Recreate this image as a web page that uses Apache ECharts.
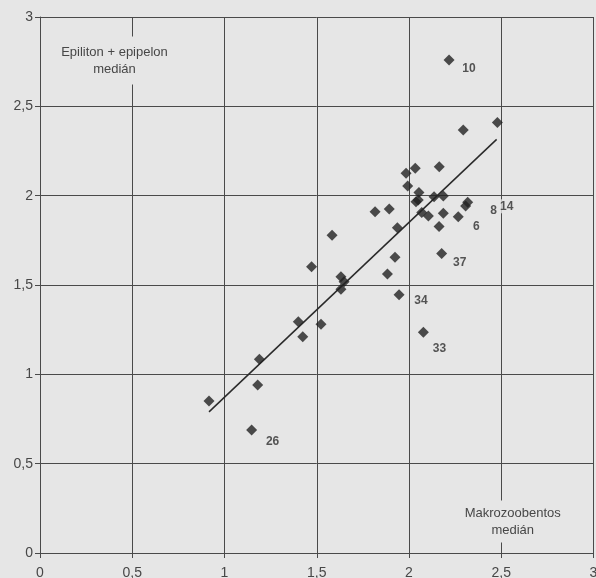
<!DOCTYPE html>
<html><head><meta charset="utf-8">
<script src="https://cdn.jsdelivr.net/npm/echarts@6/dist/echarts.min.js"></script>
<style>html,body{margin:0;padding:0;background:#e6e6e6}#c{width:596px;height:578px}</style>
</head><body><div id="c"></div>
<script>
// Makrozoobentos medián (x) vs Epiliton + epipelon medián (y)
const xValues = [2.217, 2.479, 2.294, 1.984, 2.034, 2.164, 1.993, 2.054, 2.038, 2.05,
  2.136, 2.186, 1.816, 1.893, 2.069, 2.105, 2.186, 2.267, 2.307, 2.318,
  2.163, 1.937, 1.583, 2.177, 1.924, 1.472, 1.883, 1.631, 1.648, 1.631,
  1.946, 1.4, 1.523, 1.424, 1.189, 1.18, 0.916, 1.147, 2.078];
const yValues = [2.759, 2.41, 2.367, 2.125, 2.154, 2.162, 2.054, 2.018, 1.966, 1.976,
  1.994, 1.998, 1.91, 1.925, 1.906, 1.886, 1.901, 1.882, 1.942, 1.963,
  1.828, 1.82, 1.778, 1.677, 1.655, 1.602, 1.561, 1.546, 1.518, 1.476,
  1.445, 1.294, 1.28, 1.21, 1.084, 0.94, 0.851, 0.688, 1.235];
// site numbers shown next to some points (index -> text)
const pointLabels = {0: '10', 17: '6', 18: '8', 19: '14', 23: '37', 30: '34', 37: '26', 38: '33'};
// trend line end points
const trendX = [0.916, 2.475];
const trendY = [0.79, 2.315];
const axisTicks = [0, 0.5, 1, 1.5, 2, 2.5, 3];
const xTitle = ['Makrozoobentos', 'medián'];
const yTitle = ['Epiliton + epipelon', 'medián'];

// label offsets (px) - style only
const labelOffsets = {'10': [20, 9], '6': [18, 10], '8': [28, 5], '14': [39, 4], '37': [18, 9], '34': [22, 6], '33': [16, 16], '26': [21, 12]};

const BG = '#e6e6e6';
const GRID = '#4a4a4a';
const TXT = '#474747';
const FONT = '"Liberation Sans", Arial, sans-serif';

const scatterData = xValues.map((x, i) => {
  const d = {value: [x, yValues[i]]};
  const t = pointLabels[i];
  if (t) {
    d.label = {show: true, formatter: t, position: 'inside', offset: labelOffsets[t],
      color: '#2e2e2e', fontWeight: 'bold', fontSize: 12, fontFamily: FONT,
      backgroundColor: BG, padding: [1, 1]};
  }
  return d;
});

const fmt = v => String(v).replace('.', ',');
const axisCommon = {
  type: 'value', min: axisTicks[0], max: axisTicks[axisTicks.length - 1],
  interval: axisTicks[1] - axisTicks[0],
  axisLine: {show: true, onZero: false, lineStyle: {color: GRID, width: 1}},
  axisTick: {show: true, length: 5, lineStyle: {color: GRID}},
  splitLine: {show: true, lineStyle: {color: GRID, width: 1}},
  axisLabel: {color: TXT, fontSize: 14, fontFamily: FONT, formatter: fmt}
};

const chart = echarts.init(document.getElementById('c'), null, {renderer: 'canvas'});
chart.setOption({
  backgroundColor: BG,
  animation: false,
  grid: {left: 40, right: 2.5, top: 17, bottom: 25, containLabel: false, outerBoundsMode: 'none'},
  xAxis: Object.assign({}, axisCommon, {axisLabel: Object.assign({}, axisCommon.axisLabel, {margin: 13})}),
  yAxis: Object.assign({}, axisCommon, {axisLabel: Object.assign({}, axisCommon.axisLabel, {margin: 7})}),
  series: [
    {type: 'line', data: trendX.map((x, i) => [x, trendY[i]]), symbol: 'none',
      lineStyle: {color: '#2a2a2a', width: 1.5}, z: 3, silent: true},
    {type: 'scatter', data: scatterData, symbol: 'diamond', symbolSize: 11,
      itemStyle: {color: '#222222'}, z: 4}
  ],
  graphic: [
    {type: 'text', x: 114.5, y: 60.5, z: 10,
      style: {text: yTitle.join('\n'), fill: TXT, font: '13px ' + FONT, align: 'center', verticalAlign: 'middle',
        lineHeight: 17, backgroundColor: BG, padding: [7, 3]}},
    {type: 'text', x: 512.7, y: 521.5, z: 10,
      style: {text: xTitle.join('\n'), fill: TXT, font: '13px ' + FONT, align: 'center', verticalAlign: 'middle',
        lineHeight: 17, backgroundColor: BG, padding: [4, 3]}}
  ]
});
</script></body></html>
